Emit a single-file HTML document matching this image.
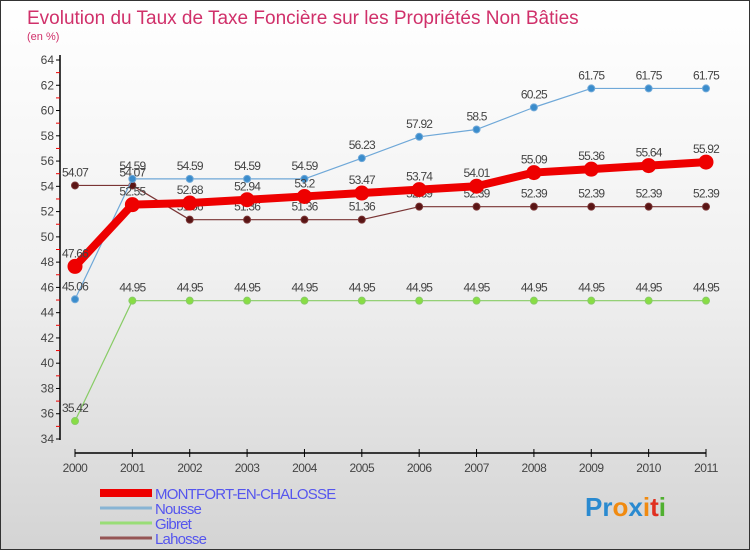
<!DOCTYPE html>
<html><head><meta charset="utf-8"><style>
body{margin:0;width:750px;height:550px;overflow:hidden;font-family:"Liberation Sans",sans-serif}
#c{position:absolute;left:0;top:0;width:748px;height:548px;border:1px solid #333;background:linear-gradient(#fff 0%,#f0f0f0 50%,#d4d4d4 100%)}
</style></head><body>
<div id="c"></div>
<svg id="s" width="750" height="550" style="position:absolute;left:0;top:0" font-family="Liberation Sans, sans-serif">
<text x="27" y="24" font-size="19" fill="#d0306a">Evolution du Taux de Taxe Foncière sur les Propriétés Non Bâties</text>
<text x="27" y="40" font-size="11" fill="#d0306a">(en %)</text>
<g id="axes"></g><g id="series"></g><g id="legend"></g>
<text x="585" y="516" font-size="26" font-weight="bold"><tspan fill="#2a8ad0">Pr</tspan><tspan fill="#f08a10">o</tspan><tspan fill="#2a8ad0">x</tspan><tspan fill="#f08a10">i</tspan><tspan fill="#e03020">t</tspan><tspan fill="#50b030">i</tspan></text>
</svg>
<script>
const years=[2000,2001,2002,2003,2004,2005,2006,2007,2008,2009,2010,2011];
const yTicks=[34,36,38,40,42,44,46,48,50,52,54,56,58,60,62,64];
const montfort=[47.66,52.55,52.68,52.94,53.2,53.47,53.74,54.01,55.09,55.36,55.64,55.92];
const nousse=[45.06,54.59,54.59,54.59,54.59,56.23,57.92,58.5,60.25,61.75,61.75,61.75];
const gibret=[35.42,44.95,44.95,44.95,44.95,44.95,44.95,44.95,44.95,44.95,44.95,44.95];
const lahosse=[54.07,54.07,51.36,51.36,51.36,51.36,52.39,52.39,52.39,52.39,52.39,52.39];
const NS="http://www.w3.org/2000/svg";
const X=i=>75+i*(631/11);
const Y=v=>439-(v-34)*(379/30);
function mk(t,a,p){const e=document.createElementNS(NS,t);for(const k in a)e.setAttribute(k,a[k]);p.appendChild(e);return e;}
const ax=document.getElementById('axes');
let yl=mk('line',{x1:60,y1:55,x2:60,y2:440,stroke:'#000','stroke-width':1.5},ax);


yTicks.forEach(v=>{
 mk('line',{x1:56,x2:60,y1:Y(v),y2:Y(v),stroke:'#000'},ax);
 if(v<64)mk('line',{x1:56,x2:60,y1:Y(v+1),y2:Y(v+1),stroke:'#e00'},ax);
 const t=mk('text',{x:54,y:Y(v)+4,'font-size':12,fill:'#444','text-anchor':'end'},ax);t.textContent=v;
 
 
});
let xl=mk('line',{x1:75,y1:453,x2:706,y2:453,stroke:'#000','stroke-width':1.5},ax);


years.forEach((y,i)=>{
 mk('line',{x1:X(i),x2:X(i),y1:449,y2:457,stroke:'#000'},ax);
 const t=mk('text',{x:X(i),y:472,'font-size':12,fill:'#444','text-anchor':'middle','letter-spacing':'-0.5'},ax);t.textContent=y;
 
 
});
const sg=document.getElementById('series');
function draw(data,name,color,fill,w,r){
 const g=mk('g',{},sg);
 
 
 mk('polyline',{points:data.map((v,i)=>X(i)+','+Y(v)).join(' '),fill:'none',stroke:color,'stroke-width':w,'stroke-linejoin':'round'},g);
 data.forEach((v,i)=>{
  const c=mk('circle',{cx:X(i),cy:Y(v),r:r,fill:fill,stroke:color,'stroke-width':1},g);
  
  
  const t=mk('text',{x:X(i),y:Y(v)-9,'font-size':12,fill:'#444','text-anchor':'middle','letter-spacing':'-0.8'},g);
  t.textContent=String(v);
  
  
 });
}
draw(gibret,'gibret','#88cc66','#88dd44',1.2,3.5);
draw(lahosse,'lahosse','#7a3535','#5a1515',1.2,3.5);
draw(nousse,'nousse','#6fa8d8','#3a8ccc',1.2,3.5);
draw(montfort,'montfort','#ee0000','#ee0000',8,7);
const lg=document.getElementById('legend');
const names=['MONTFORT-EN-CHALOSSE','Nousse','Gibret','Lahosse'];
const cols=['#ee0000','#88b4d4','#99dd77','#955555'];
const ws=[8,3,3,3];
names.forEach((n,i)=>{
 const y=493+i*15;
 const g=mk('g',{},lg);
 
 
 mk('line',{x1:100,x2:152,y1:y,y2:y,stroke:cols[i],'stroke-width':ws[i]},g);
 const t=mk('text',{x:155,y:y+6,'font-size':15,fill:'#5555ee','letter-spacing':'-0.8'},g);t.textContent=n;
});
</script>
</body></html>
